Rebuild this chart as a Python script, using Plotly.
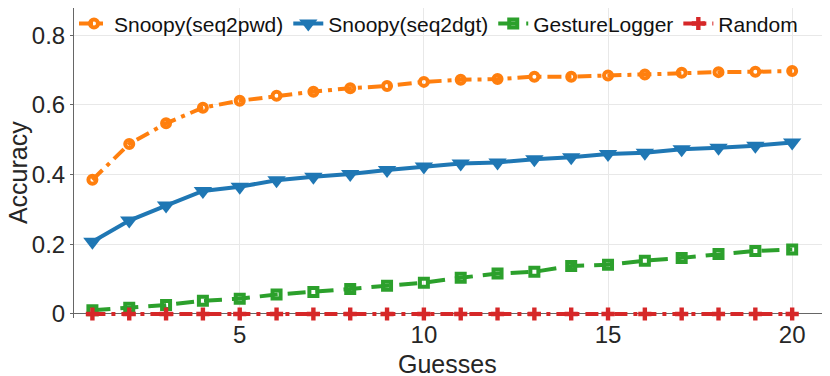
# plot.py - Accuracy vs. number of guesses (Snoopy / GestureLogger / Random)

import plotly.graph_objects as go

# --- data ---
guesses = list(range(1, 21))

seq2pwd = [0.385, 0.488, 0.547, 0.592, 0.612, 0.626, 0.638, 0.648, 0.654, 0.666,
           0.672, 0.674, 0.681, 0.681, 0.684, 0.687, 0.692, 0.694, 0.695, 0.697]
seq2dgt = [0.207, 0.268, 0.311, 0.353, 0.365, 0.384, 0.394, 0.402, 0.413, 0.423,
           0.432, 0.435, 0.444, 0.450, 0.459, 0.463, 0.473, 0.477, 0.483, 0.492]
gesture_logger = [0.011, 0.018, 0.026, 0.038, 0.044, 0.056, 0.063, 0.072, 0.081, 0.090,
                  0.104, 0.116, 0.121, 0.138, 0.141, 0.153, 0.161, 0.172, 0.181, 0.185]
random_guess = [0.0] * 20

x_ticks = [5, 10, 15, 20]
y_ticks = [0, 0.2, 0.4, 0.6, 0.8]
y_tick_labels = ["0", "0.2", "0.4", "0.6", "0.8"]

FONT = "Liberation Sans, Arial, Helvetica, sans-serif"

fig = go.Figure()

# Snoopy(seq2pwd): orange, dash-dot, thick ring markers
fig.add_trace(go.Scatter(
    x=guesses, y=seq2pwd, name="Snoopy(seq2pwd)", mode="lines+markers",
    line=dict(color="#ff7f0e", width=4, dash="14px,6px,4px,6px"),
    marker=dict(symbol="circle-open", size=8, line=dict(width=4, color="#ff7f0e")),
))

# Snoopy(seq2dgt): blue, solid, filled down triangles
fig.add_trace(go.Scatter(
    x=guesses, y=seq2dgt, name="Snoopy(seq2dgt)", mode="lines+markers",
    line=dict(color="#1f77b4", width=4),
    marker=dict(symbol="triangle-down", size=16, color="#1f77b4"),
))

# GestureLogger: green, dashed, thick square markers
fig.add_trace(go.Scatter(
    x=guesses, y=gesture_logger, name="GestureLogger", mode="lines+markers",
    line=dict(color="#2ca02c", width=4, dash="18px,10px"),
    marker=dict(symbol="square-open", size=8, line=dict(width=4, color="#2ca02c")),
    cliponaxis=False,
))

# Random: red, dash-dot, plus markers (sits right on the zero line)
fig.add_trace(go.Scatter(
    x=guesses, y=random_guess, name="Random", mode="lines+markers",
    line=dict(color="#d62728", width=4, dash="13px,6px,4px,6px"),
    marker=dict(symbol="cross", size=11, color="#d62728"),
    cliponaxis=False,
))

# page body adds an 8px margin, so the figure is 8px smaller than the window
fig.update_layout(
    width=822, height=368,
    margin=dict(l=66, r=1, t=0, b=58, autoexpand=False),
    paper_bgcolor="white", plot_bgcolor="white",
    font=dict(family=FONT, color="#262626"),
    showlegend=True,
    legend=dict(
        orientation="h", x=0, y=1.015, xanchor="left", yanchor="top",
        font=dict(size=21, family=FONT, color="#111111"),
        bgcolor="rgba(0,0,0,0)", borderwidth=0,
        itemwidth=30, tracegroupgap=0,
    ),
    annotations=[
        dict(text="Guesses", xref="paper", yref="paper", x=0.495, y=-0.148,
             xanchor="center", yanchor="middle", showarrow=False,
             font=dict(size=25, family=FONT, color="#262626")),
        dict(text="Accuracy", xref="paper", yref="paper", x=-0.074, y=0.468,
             xanchor="center", yanchor="middle", showarrow=False, textangle=-90,
             font=dict(size=25, family=FONT, color="#262626")),
    ],
)

# x axis drawn as the y=0 zero line so the Random line isn't half clipped
fig.update_xaxes(
    range=[0.5, 21], tickvals=x_ticks, automargin=False,
    tickfont=dict(size=24),
    showgrid=True, gridcolor="#e8e8e8", gridwidth=1,
    showline=False, ticks="",
    zeroline=False,
)
fig.update_yaxes(
    range=[-0.0115, 0.878], tickvals=y_ticks, ticktext=y_tick_labels, automargin=False,
    tickfont=dict(size=24),
    showgrid=True, gridcolor="#e8e8e8", gridwidth=1,
    showline=True, linecolor="#666666", linewidth=1,
    ticks="outside", ticklen=3, tickcolor="#666666",
    zeroline=True, zerolinecolor="#666666", zerolinewidth=1,
)

fig.write_html("out.html")
